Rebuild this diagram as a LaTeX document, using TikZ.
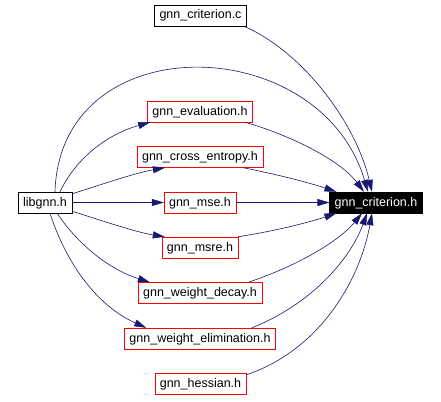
\documentclass[tikz,border=0pt]{standalone}
\usepackage{fontspec}
\setmainfont{Liberation Sans}
\usetikzlibrary{arrows.meta}

\definecolor{edgeblue}{HTML}{191970}

\begin{document}
\begin{tikzpicture}[
    x=1pt, y=-1pt,
    file/.style={draw=red, thin, inner xsep=5pt, inner ysep=0pt,
        minimum height=21pt, text height=9.5pt, text depth=2.5pt,
        font=\fontsize{12.5}{14}\selectfont},
    plain/.style={file, draw=black},
    current/.style={file, draw=black, fill=black, text=white},
    dep/.style={edgeblue, line width=0.6pt, -{Triangle[length=12pt, width=7pt]}},
]

% --- Canvas ---
\fill[white] (0,0) rectangle (441,401);

% =============================================================================
% Files
% =============================================================================
\node[plain]   (critc)  at (200.5, 15.5)  {gnn\_criterion.c};
\node[file]    (eval)   at (200, 111.5)   {gnn\_evaluation.h};
\node[file]    (xent)   at (200, 157)     {gnn\_cross\_entropy.h};
\node[plain]   (libgnn) at (45, 202.5)    {libgnn.h};
\node[file]    (mse)    at (200, 202.5)   {gnn\_mse.h};
\node[current] (crith)  at (376, 202.5)   {gnn\_criterion.h};
\node[file]    (msre)   at (200, 247.5)   {gnn\_msre.h};
\node[file]    (wdecay) at (200, 293)     {gnn\_weight\_decay.h};
\node[file]    (welim)  at (200, 338.5)   {gnn\_weight\_elimination.h};
\node[file]    (hess)   at (200.5, 383.5) {gnn\_hessian.h};

% =============================================================================
% libgnn.h includes
% =============================================================================
\draw[dep] ([xshift=10pt]libgnn.north) .. controls (60,25) and (320,30) .. ([xshift=-8pt]crith.north);
\draw[dep] ([xshift=15pt]libgnn.north) .. controls (75,160) and (105,135) .. ([xshift=3pt]eval.south west);
\draw[dep] ([yshift=-2pt]libgnn.north east) .. controls (100,185) and (135,173) .. ([xshift=28pt]xent.south west);
\draw[dep] (libgnn.east) -- (mse.west);
\draw[dep] ([yshift=2pt]libgnn.south east) .. controls (100,220) and (135,232) .. ([xshift=3pt]msre.north west);
\draw[dep] ([xshift=12pt]libgnn.south) .. controls (75,240) and (105,268) .. ([xshift=12pt]wdecay.north west);
\draw[dep] ([xshift=5pt]libgnn.south) .. controls (65,260) and (95,305) .. ([xshift=22pt]welim.north west);

% =============================================================================
% includes of gnn_criterion.h
% =============================================================================
\draw[dep] ([xshift=-3pt]critc.south east) .. controls (300,50) and (355,120) .. ([xshift=-4pt]crith.north);
\draw[dep] ([xshift=-8pt]eval.south east) .. controls (290,135) and (340,160) .. ([xshift=-12pt]crith.north);
\draw[dep] ([xshift=-20pt]xent.south east) .. controls (280,175) and (310,183) .. ([xshift=7pt]crith.north west);
\draw[dep] (mse.east) -- (crith.west);
\draw[dep] (msre.north east) .. controls (280,230) and (310,222) .. ([xshift=7pt]crith.south west);
\draw[dep] ([xshift=-14pt]wdecay.north east) .. controls (300,265) and (340,240) .. ([xshift=-14pt]crith.south);
\draw[dep] ([xshift=-24pt]welim.north east) .. controls (310,305) and (350,260) .. ([xshift=-9pt]crith.south);
\draw[dep] ([yshift=-2pt]hess.north east) .. controls (320,350) and (360,280) .. ([xshift=-4pt]crith.south);

\end{tikzpicture}
\end{document}
